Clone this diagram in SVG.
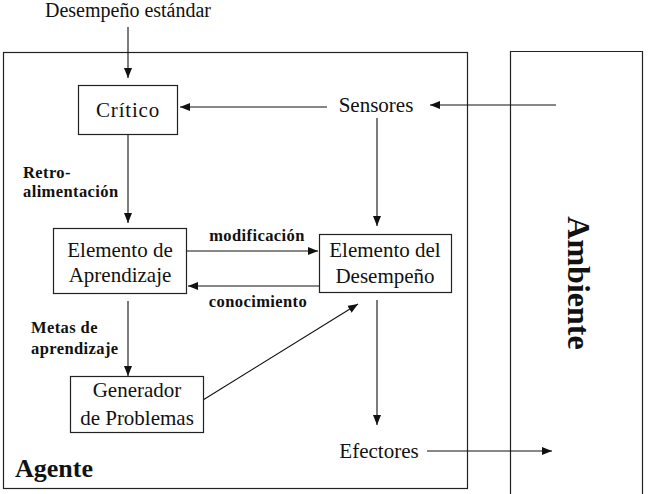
<svg xmlns="http://www.w3.org/2000/svg" width="654" height="494" viewBox="0 0 654 494">
<defs>
<marker id="ah" viewBox="0 0 10 8" refX="10" refY="4" markerWidth="10" markerHeight="8" markerUnits="userSpaceOnUse" orient="auto">
<path d="M0,0 L10,4 L0,8 Z" fill="#111"/>
</marker>
</defs>
<style>
.frame{fill:none;stroke:#222;stroke-width:1.2}
.box{fill:#fff;stroke:#222;stroke-width:1.2}
text{font-family:"Times New Roman","Liberation Serif",Tinos,"DejaVu Serif",serif;fill:#111}
.t{font-size:21px;text-anchor:middle}
.l{font-size:16.5px;font-weight:bold;letter-spacing:0.4px}
.c{stroke:#111;stroke-width:1.1;fill:none;marker-end:url(#ah)}
</style>
<rect width="654" height="494" fill="#fff"/>
<g id="agente">
<rect class="frame" x="3.5" y="52.5" width="464" height="436"/>
<text x="15" y="477" font-size="26" font-weight="bold">Agente</text>
</g>
<g id="ambiente">
<path class="frame" d="M510.5,494 V51.5 H642.5 V494"/>
<text transform="translate(568,283) rotate(90)" font-size="32" font-weight="bold" text-anchor="middle">Ambiente</text>
</g>
<g id="connectors">
<line class="c" x1="128" y1="27" x2="128" y2="78"/>
<line class="c" x1="327" y1="107" x2="180" y2="107"/>
<line class="c" x1="556" y1="105" x2="430" y2="105"/>
<line class="c" x1="377" y1="118" x2="377" y2="226"/>
<line class="c" x1="128" y1="134" x2="128" y2="223"/>
<line class="c" x1="186" y1="251" x2="318" y2="251"/>
<line class="c" x1="319" y1="286" x2="188" y2="286"/>
<line class="c" x1="128" y1="301" x2="128" y2="376"/>
<line class="c" x1="203" y1="400" x2="358" y2="304"/>
<line class="c" x1="377" y1="300" x2="377" y2="425"/>
<line class="c" x1="427" y1="451" x2="552" y2="451"/>
<text class="l" x="257" y="241" text-anchor="middle">modificación</text>
<text class="l" x="258" y="307" text-anchor="middle">conocimiento</text>
<text class="l" x="23" y="178">Retro-</text>
<text class="l" x="23" y="197">alimentación</text>
<text class="l" x="31" y="333">Metas de</text>
<text class="l" x="31" y="354">aprendizaje</text>
</g>
<g id="desempeno-estandar">
<text class="t" x="128" y="17" style="font-size:20px">Desempeño estándar</text>
</g>
<g id="critico">
<rect class="box" x="78.5" y="85.5" width="99" height="49"/>
<text class="t" x="128" y="117" letter-spacing="0.8">Crítico</text>
</g>
<g id="sensores">
<text class="t" x="376" y="112">Sensores</text>
</g>
<g id="elemento-aprendizaje">
<rect class="box" x="53.5" y="228.5" width="133" height="65"/>
<text class="t" x="120" y="257">Elemento de</text>
<text class="t" x="120" y="282">Aprendizaje</text>
</g>
<g id="elemento-desempeno">
<rect class="box" x="319.5" y="234.5" width="132" height="58"/>
<text class="t" x="385" y="257">Elemento del</text>
<text class="t" x="385" y="283">Desempeño</text>
</g>
<g id="generador">
<rect class="box" x="70.5" y="376.5" width="133" height="56"/>
<text class="t" x="137" y="397">Generador</text>
<text class="t" x="137" y="425">de Problemas</text>
</g>
<g id="efectores">
<text class="t" x="379" y="458">Efectores</text>
</g>
</svg>
